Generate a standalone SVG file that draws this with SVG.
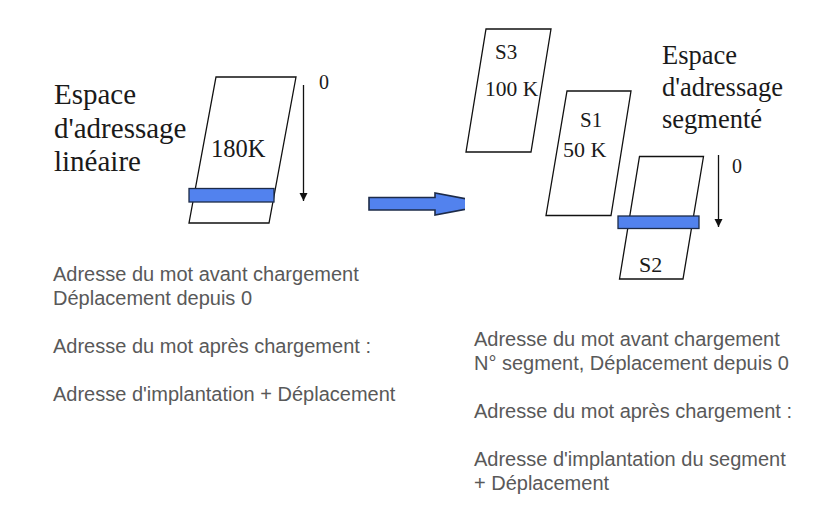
<svg xmlns="http://www.w3.org/2000/svg" width="827" height="512" viewBox="0 0 827 512">
<style>
.seg{fill:#fff;stroke:#111;stroke-width:1.3;stroke-linejoin:miter}
.bar{fill:#5282ee;stroke:#1d2b48;stroke-width:1.3}
.serif{font-family:"Liberation Serif","Times New Roman",serif;fill:#1a1a1a}
.body{font-family:"Liberation Sans",Arial,sans-serif;font-size:20px;fill:#595959}
.axis{stroke:#111;stroke-width:1.3;fill:none}
</style>
<defs>
<marker id="tri" viewBox="0 0 10 10" refX="10" refY="5" markerWidth="8" markerHeight="9" markerUnits="userSpaceOnUse" orient="auto">
<path d="M0,0 L10,5 L0,10 Z" fill="#111"/>
</marker>
<clipPath id="cutArrow"><rect x="360" y="180" width="105" height="50"/></clipPath>
</defs>
<rect width="827" height="512" fill="#fff"/>

<g id="linear-space">
<polygon class="seg" points="216,77 296,77 269,223 189,223"/>
<rect class="bar" x="189" y="188.5" width="85" height="13.5"/>
<text class="serif" x="211" y="157" font-size="24.5">180K</text>
</g>
<g id="linear-label">
<text class="serif" x="54" y="104" font-size="29">Espace</text>
<text class="serif" x="54" y="138" font-size="29">d'adressage</text>
<text class="serif" x="54" y="171" font-size="29">linéaire</text>
</g>
<g id="linear-axis">
<text class="serif" x="319" y="89" font-size="20">0</text>
</g>

<g id="S3">
<polygon class="seg" points="486,29 551,29 531,152 466,152"/>
<text class="serif" x="495" y="59" font-size="21">S3</text>
<text class="serif" x="485" y="96" font-size="21.5">100 K</text>
</g>
<g id="S1">
<polygon class="seg" points="567,91 631,91 611,215.5 546,215.5"/>
<text class="serif" x="580" y="127" font-size="21">S1</text>
<text class="serif" x="563" y="157" font-size="22">50 K</text>
</g>
<g id="S2">
<polygon class="seg" points="639.5,156.5 703.5,156.5 683,279 619.5,279"/>
<rect class="bar" x="618" y="216" width="81" height="12.5"/>
<text class="serif" x="639" y="272" font-size="22">S2</text>
</g>
<g id="segmented-label">
<text class="serif" x="662" y="64" font-size="26.5">Espace</text>
<text class="serif" x="662" y="96" font-size="26.5">d'adressage</text>
<text class="serif" x="662" y="128" font-size="26.5">segmenté</text>
</g>
<g id="segmented-axis">
<text class="serif" x="732" y="173" font-size="20">0</text>
</g>

<g id="connectors">
<line class="axis" x1="303.5" y1="85" x2="303.5" y2="201" marker-end="url(#tri)"/>
<line class="axis" x1="718.5" y1="155" x2="718.5" y2="227" marker-end="url(#tri)"/>
<g clip-path="url(#cutArrow)">
<polygon points="369,197.5 435,197.5 435,193 494,204 435,215 435,210 369,210" fill="#5282ee" stroke="#1d2b48" stroke-width="1.6" stroke-linejoin="miter"/>
</g>
</g>

<g id="text-left">
<text class="body" x="53" y="281">Adresse du mot avant chargement</text>
<text class="body" x="53" y="305">Déplacement depuis 0</text>
<text class="body" x="53" y="353">Adresse du mot après chargement :</text>
<text class="body" x="53" y="401">Adresse d'implantation + Déplacement</text>
</g>
<g id="text-right">
<text class="body" x="474" y="346">Adresse du mot avant chargement</text>
<text class="body" x="474" y="370">N° segment, Déplacement depuis 0</text>
<text class="body" x="474" y="418">Adresse du mot après chargement :</text>
<text class="body" x="474" y="466">Adresse d'implantation du segment</text>
<text class="body" x="474" y="490">+ Déplacement</text>
</g>
</svg>
